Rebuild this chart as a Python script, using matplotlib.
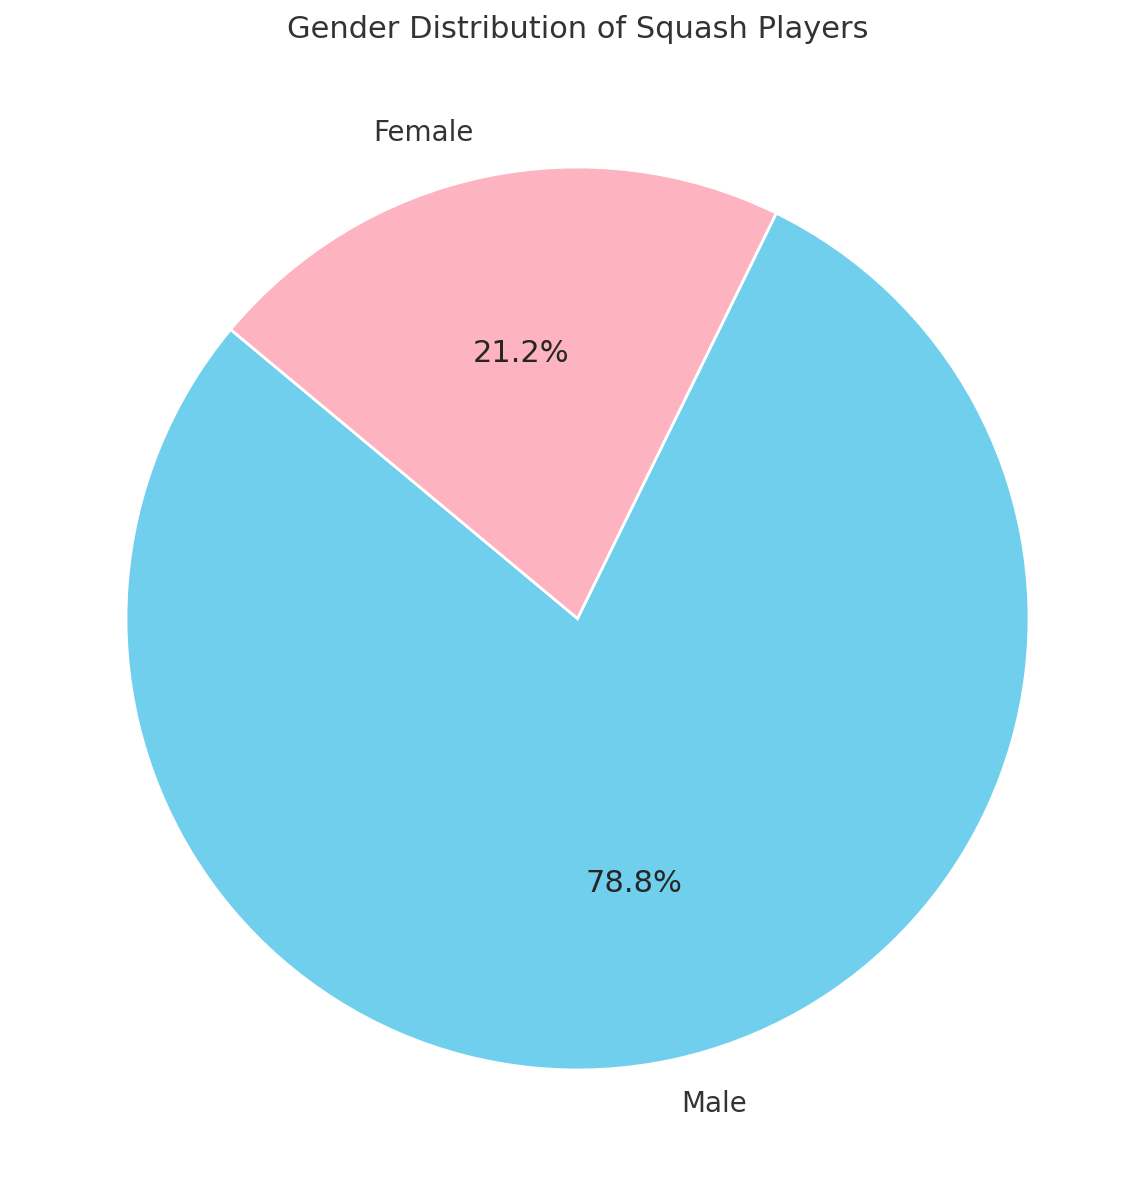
import matplotlib
matplotlib.use("Agg")
import matplotlib.pyplot as plt

labels = ["Male", "Female"]
values = [78.8, 21.2]
colors = ["#71CFEE", "#FEB3C1"]

plt.rcParams['font.family'] = ['DejaVu Sans']
plt.rcParams['text.color'] = '#262626'

fig = plt.figure(figsize=(11.48, 11.86), dpi=100)
R = 451.5
cx, cy = 577.5, 1186 - 618.5
side = 2.5 * R
ax = fig.add_axes([(cx - side / 2) / 1148, (cy - side / 2) / 1186, side / 1148, side / 1186])
wedges, texts, autotexts = ax.pie(values, labels=labels, colors=colors, autopct='%1.1f%%',
                                  startangle=140.2,
                                  wedgeprops=dict(edgecolor='white', linewidth=2),
                                  textprops=dict(color='#333333'))
for t in texts:
    t.set_fontsize(20)
for t in autotexts:
    t.set_fontsize(22)
    t.set_color('#262626')
ax.set_aspect('equal')
ax.set_xlim(-1.25, 1.25)
ax.set_ylim(-1.25, 1.25)
fig.text(577.5 / 1148, 1 - 30 / 1186, "Gender Distribution of Squash Players", ha='center', va='center',
         fontsize=22, color='#333333')
fig.savefig("out.png", dpi=100)
